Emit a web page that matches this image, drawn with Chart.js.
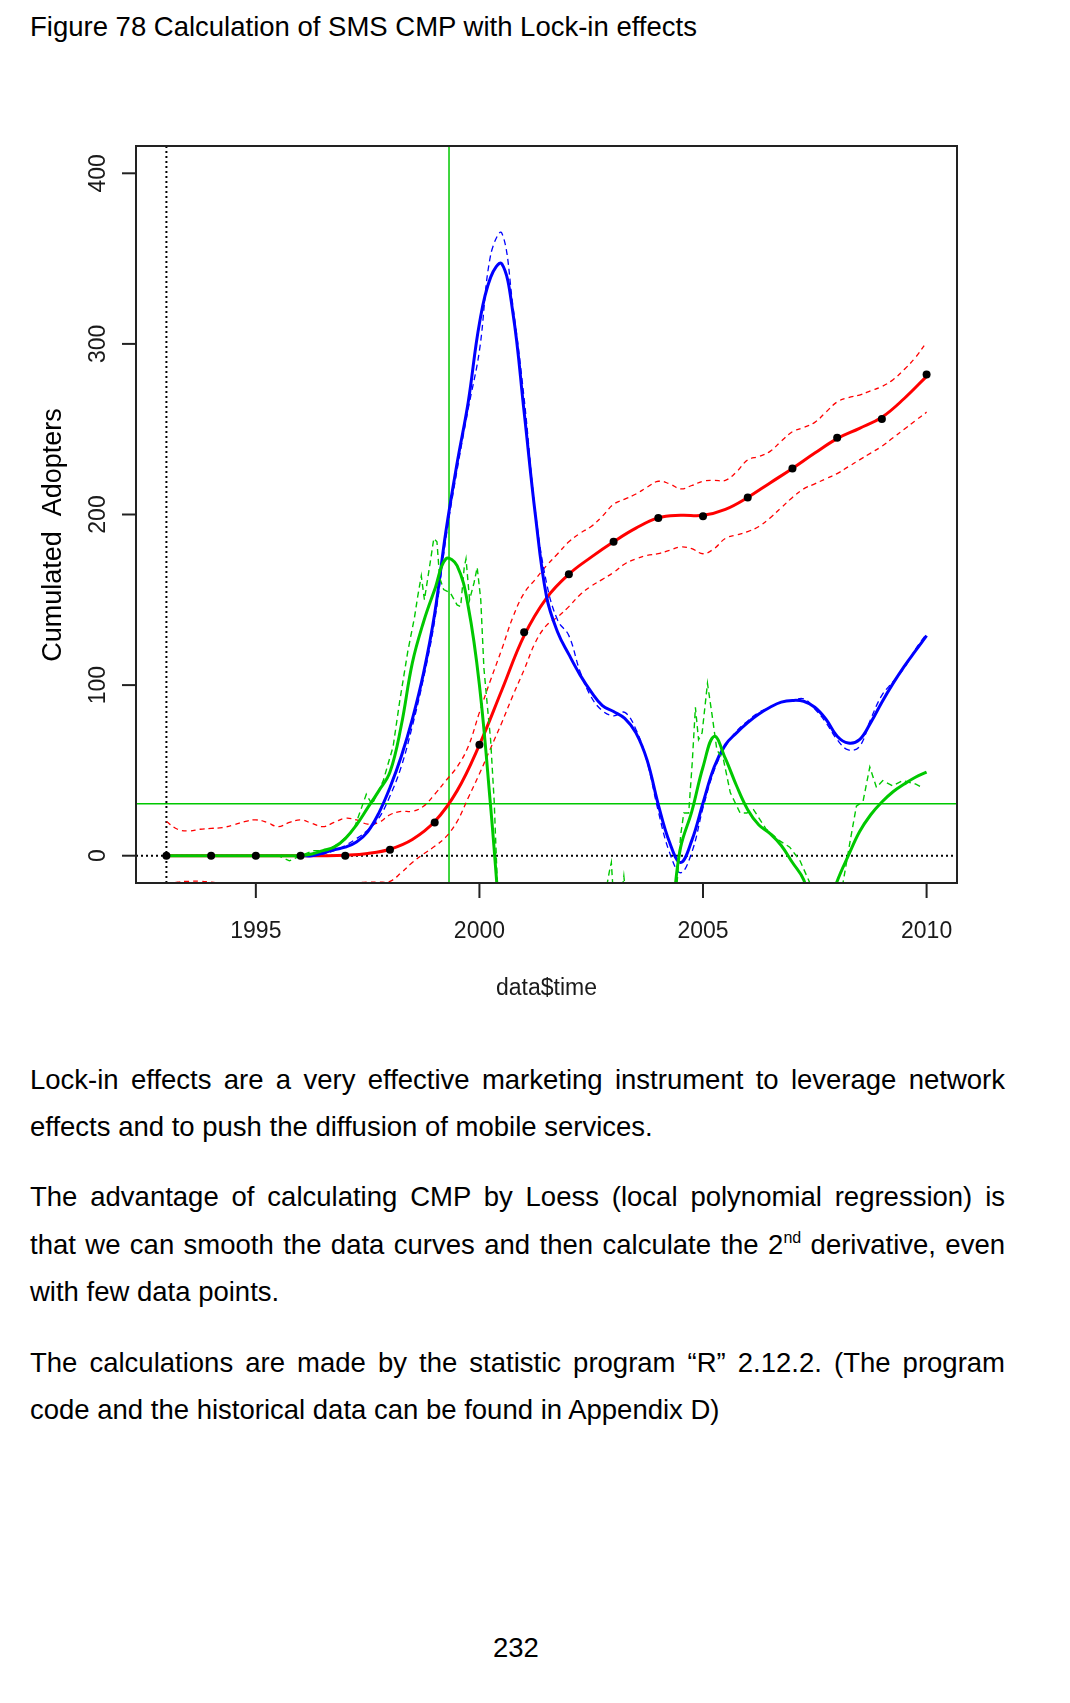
<!DOCTYPE html>
<html>
<head>
<meta charset="utf-8">
<script src="https://cdn.jsdelivr.net/npm/chart.js@4.4.0/dist/chart.umd.min.js"></script>
<style>
body { margin:0; background:#fff; width:1070px; height:1703px; position:relative; overflow:hidden;
       font-family:"Liberation Sans", Arial, sans-serif; color:#000; }
.t { position:absolute; font-size:27.5px; line-height:27px; white-space:nowrap; }
.j { position:absolute; left:30px; width:975px; font-size:27.5px; line-height:27px;
     text-align:justify; text-align-last:justify; }
.l { position:absolute; left:30px; font-size:27.5px; line-height:27px; white-space:nowrap; }
sup { font-size:16px; line-height:0; vertical-align:baseline; position:relative; top:-11px; }
#chart { position:absolute; left:0; top:0; width:1070px; height:1010px; }
</style>
</head>
<body>
<div class="t" style="left:30px;top:13px">Figure 78 Calculation of SMS CMP with Lock-in effects</div>
<canvas id="chart" width="1070" height="1010"></canvas>

<div class="j" style="top:1066px">Lock-in effects are a very effective marketing instrument to leverage network</div>
<div class="l" style="top:1113px">effects and to push the diffusion of mobile services.</div>
<div class="j" style="top:1183px">The advantage of calculating CMP by Loess (local polynomial regression) is</div>
<div class="j" style="top:1231px">that we can smooth the data curves and then calculate the 2<sup>nd</sup> derivative, even</div>
<div class="l" style="top:1278px">with few data points.</div>
<div class="j" style="top:1349px">The calculations are made by the statistic program “R” 2.12.2. (The program</div>
<div class="l" style="top:1396px">code and the historical data can be found in Appendix D)</div>
<div class="t" style="left:493px;top:1634px">232</div>

<script>
// observed cumulated adopters
const obsYears = [1993, 1994, 1995, 1996, 1997, 1998, 1999, 2000, 2001, 2002, 2003, 2004, 2005, 2006, 2007, 2008, 2009, 2010];
const adopters = [0, 0, 0, 0, 0, 3.5, 19.5, 65, 131, 165, 184, 198, 199, 210, 227, 245, 256, 282];

// loess fit
const halfYears = [1993, 1993.5, 1994, 1994.5, 1995, 1995.5, 1996, 1996.5, 1997, 1997.5, 1998, 1998.5,
  1999, 1999.5, 2000, 2000.5, 2001, 2001.5, 2002, 2002.5, 2003, 2003.5, 2004, 2004.5, 2005, 2005.5,
  2006, 2006.5, 2007, 2007.5, 2008, 2008.5, 2009, 2009.5, 2010];
const redFit = [0, 0, 0, 0, 0, 0, 0, 0, 0.3, 1.3, 3.8, 9.5,
  20, 38, 65, 97, 129, 151, 165, 175, 184, 192, 198, 199.5, 199.5, 203,
  210, 218.5, 227, 236, 244.5, 250.5, 257, 268, 281];

const quarterYears = [
  1993, 1993.25, 1993.5, 1993.75, 1994, 1994.25, 1994.5, 1994.75,
  1995, 1995.25, 1995.5, 1995.75, 1996, 1996.25, 1996.5, 1996.75,
  1997, 1997.25, 1997.5, 1997.75, 1998, 1998.25, 1998.5, 1998.75,
  1999, 1999.25, 1999.5, 1999.75, 2000, 2000.25, 2000.5, 2000.75,
  2001, 2001.25, 2001.5, 2001.75, 2002, 2002.25, 2002.5, 2002.75,
  2003, 2003.25, 2003.5, 2003.75, 2004, 2004.25, 2004.5, 2004.75,
  2005, 2005.25, 2005.5, 2005.75, 2006, 2006.25, 2006.5, 2006.75,
  2007, 2007.25, 2007.5, 2007.75, 2008, 2008.25, 2008.5, 2008.75,
  2009, 2009.25, 2009.5, 2009.75, 2010];

// confidence band of the fit
const redUpper = [
  20, 15.5, 14.5, 15.5, 16, 16.5, 18, 20,
  21, 19.5, 17, 19.5, 21, 19, 17, 19.5,
  22, 21, 18.5, 19.5, 24, 26, 26, 29,
  36, 44, 52, 64, 84, 103, 121, 140,
  154, 162, 170, 177, 184, 189, 193, 199,
  206, 209, 212, 216, 219.5, 218, 215, 217,
  219.5, 220, 220, 225, 232, 234, 237, 243,
  248.5, 251, 254, 260, 266, 268.5, 270, 272.5,
  275, 279, 285, 292, 301];
const redLower = [
  -17, -15.5, -15, -15, -15.5, -16.5, -18, -20,
  -21, -22, -22, -22, -22, -21, -20, -18,
  -17, -16, -15.5, -15.5, -15, -10, -4, 1,
  5.5, 11, 20, 34, 48, 63, 78, 94,
  109, 125, 135, 140, 146, 153, 158, 162,
  166, 171, 174, 176, 177, 179, 181, 180,
  177, 180, 186, 188, 190, 193, 198, 204,
  210, 215, 218, 221, 224, 228, 232, 236,
  240, 245, 250, 255, 260];

// 1st derivative (scaled), from 1996 on
const blueYears = quarterYears.slice(12);
const blueSolid = [
  0, 0, 1.5, 3.5, 5, 8, 14, 25,
  40, 58, 80, 107, 142, 190, 230, 266,
  312, 339, 347, 318, 260, 200, 152, 131,
  118, 106, 96, 88, 84.5, 80.5, 72, 56,
  30, 8, -4, 9, 31, 52, 65, 72,
  78, 83, 87, 90, 91, 90.5, 87, 80,
  70, 66, 68, 78, 90, 101, 111, 120, 129];
const blueDashed = [
  0, 0, 1, 3, 6, 10, 15, 22,
  35, 52, 76, 104, 138, 186, 226, 262,
  296, 352, 365, 322, 268, 202, 160, 138,
  129, 108, 93, 85, 82, 84, 74, 55,
  26, 2, -10, 2, 28, 50, 64, 73,
  79, 84, 87, 90, 91, 92, 86, 78,
  68, 62, 64, 80, 94, 102, 110, 121, 130];

// 2nd derivative (scaled)
const greenSolid = [
  0, 0, 0, 0, 0, 0, 0, 0,
  0, 0, 0, 0, 0, 1, 3, 5,
  10, 18, 28, 38, 49, 76, 113, 137,
  156, 174, 170, 146, 100, 29, -50, -110,
  -150, -170, -175, -170, -150, -130, -110, -95,
  -80, -70, -62, -55, -48, -38, 5, 26,
  52, 70, 57, 41, 27, 18, 13, 6,
  -4, -14, -35, -35, -15, 0, 14, 24,
  31.5, 37.5, 42, 46, 49];
const greenDashYears = [1993, 1995.5, 1995.75, 1996, 1996.3, 1996.6, 1996.9, 1997.2, 1997.47, 1997.6,
  1997.85, 1998.07, 1998.22, 1998.4, 1998.55, 1998.62, 1998.7, 1998.77, 1998.9, 1998.98,
  1999.05, 1999.11, 1999.2, 1999.35, 1999.5, 1999.58, 1999.66, 1999.7, 1999.78, 1999.88,
  1999.95, 2000.03, 2000.1, 2000.18, 2000.25, 2000.33, 2000.4, 2000.6, 2002.7, 2002.9,
  2002.95, 2003, 2003.15, 2003.23, 2003.3, 2003.8, 2004.3, 2004.42, 2004.5, 2004.57,
  2004.68, 2004.76, 2004.83, 2004.9, 2004.98, 2005.1, 2005.2, 2005.31, 2005.46, 2005.61,
  2005.83, 2005.98, 2006.13, 2006.4, 2006.7, 2006.94, 2007.17, 2007.39, 2007.7, 2008.13,
  2008.3, 2008.43, 2008.58, 2008.73, 2008.88, 2009.02, 2009.24, 2009.47, 2009.76, 2009.9];
const greenDash = [0, 0, -3, 0, 3, 3, 8, 16, 36, 30,
  44, 64, 91, 120, 140, 152, 164, 150, 172, 186,
  184, 163, 156, 154, 147, 146, 169, 174, 150, 160,
  169, 150, 110, 87, 68, 32, -16, -60, -40, -10,
  -4, -25, -30, -12, -30, -60, -40, -16, 12, 25,
  25, 55, 87, 68, 72, 101, 83, 62, 56, 37,
  25, 25, 27, 16, 9, 5, -3, -16, -40, -16,
  10, 29, 32, 52, 40, 44, 41, 44, 42, 40];

// guide lines and axes
const startYear = 1993;
const cmpYear = 1999.32;
const cmpLevel = 30.4;
const xTicks = [1995, 2000, 2005, 2010];
const yTicks = [0, 100, 200, 300, 400];

const RED = '#ff0000', BLUE = '#0000ff', GREEN = '#00c800';

function pts(xs, ys) {
  return xs.map((x, i) => ({x: x, y: ys[i]}));
}

function seg(ctx, x1, y1, x2, y2) {
  ctx.beginPath();
  ctx.moveTo(x1, y1);
  ctx.lineTo(x2, y2);
  ctx.stroke();
}

const rAxes = {
  id: 'rAxes',
  beforeDatasetsDraw(chart) {
    const {ctx, chartArea: a, scales: {x, y}} = chart;
    ctx.save();
    ctx.strokeStyle = '#000';
    ctx.lineWidth = 2;
    ctx.setLineDash([2, 3]);
    const px = x.getPixelForValue(startYear);
    seg(ctx, px, a.top, px, a.bottom);
    const py = y.getPixelForValue(0);
    seg(ctx, a.left, py, a.right, py);
    ctx.setLineDash([]);
    ctx.strokeStyle = GREEN;
    ctx.lineWidth = 1.5;
    const gx = x.getPixelForValue(cmpYear);
    seg(ctx, gx, a.top, gx, a.bottom);
    const gy = y.getPixelForValue(cmpLevel);
    seg(ctx, a.left, gy, a.right, gy);
    ctx.restore();
  },
  afterDatasetsDraw(chart) {
    const {ctx, chartArea: a, scales: {x, y}} = chart;
    ctx.save();
    ctx.strokeStyle = '#222';
    ctx.lineWidth = 2;
    ctx.strokeRect(a.left, a.top, a.right - a.left, a.bottom - a.top);
    ctx.fillStyle = '#1a1a1a';
    ctx.font = '23px "Liberation Sans", Arial, sans-serif';
    ctx.textAlign = 'center';
    ctx.textBaseline = 'alphabetic';
    xTicks.forEach(v => {
      const px = x.getPixelForValue(v);
      seg(ctx, px, a.bottom, px, a.bottom + 15);
      ctx.fillText(String(v), px, 938);
    });
    yTicks.forEach(v => {
      const py = y.getPixelForValue(v);
      seg(ctx, a.left - 14, py, a.left, py);
      ctx.save();
      ctx.translate(105, py);
      ctx.rotate(-Math.PI / 2);
      ctx.fillText(String(v), 0, 0);
      ctx.restore();
    });
    ctx.fillText('data$time', (a.left + a.right) / 2, 995);
    ctx.fillStyle = '#000';
    ctx.font = '27px "Liberation Sans", Arial, sans-serif';
    ctx.save();
    ctx.translate(61, 535);
    ctx.rotate(-Math.PI / 2);
    ctx.fillText('Cumulated  Adopters', 0, 0);
    ctx.restore();
    ctx.restore();
  }
};

function lineSet(data, color, width, dash, tension, order) {
  return {
    type: 'line', data: data, borderColor: color, borderWidth: width,
    borderDash: dash, tension: tension, pointRadius: 0, fill: false, clip: 0, order: order
  };
}

new Chart(document.getElementById('chart'), {
  data: {
    datasets: [
      {type: 'scatter', data: pts(obsYears, adopters), pointRadius: 4, pointBackgroundColor: '#000',
       pointBorderColor: '#000', pointBorderWidth: 0, order: 0},
      lineSet(pts(quarterYears, greenSolid), GREEN, 3, [], 0.4, 1),
      lineSet(pts(greenDashYears, greenDash), GREEN, 1.4, [6, 4], 0, 2),
      lineSet(pts(blueYears, blueSolid), BLUE, 3, [], 0.4, 3),
      lineSet(pts(blueYears, blueDashed), BLUE, 1.3, [6, 4], 0.4, 4),
      lineSet(pts(halfYears, redFit), RED, 3, [], 0.4, 5),
      lineSet(pts(quarterYears, redUpper), RED, 1.3, [5, 4], 0.4, 6),
      lineSet(pts(quarterYears, redLower), RED, 1.3, [5, 4], 0.4, 7)
    ]
  },
  options: {
    responsive: false,
    animation: false,
    layout: {padding: {left: 136, top: 146, right: 113, bottom: 127}},
    plugins: {legend: {display: false}, tooltip: {enabled: false}},
    scales: {
      x: {type: 'linear', min: 1992.32, max: 2010.68, display: false},
      y: {type: 'linear', min: -16, max: 416, display: false}
    }
  },
  plugins: [rAxes]
});
</script>
</body>
</html>
